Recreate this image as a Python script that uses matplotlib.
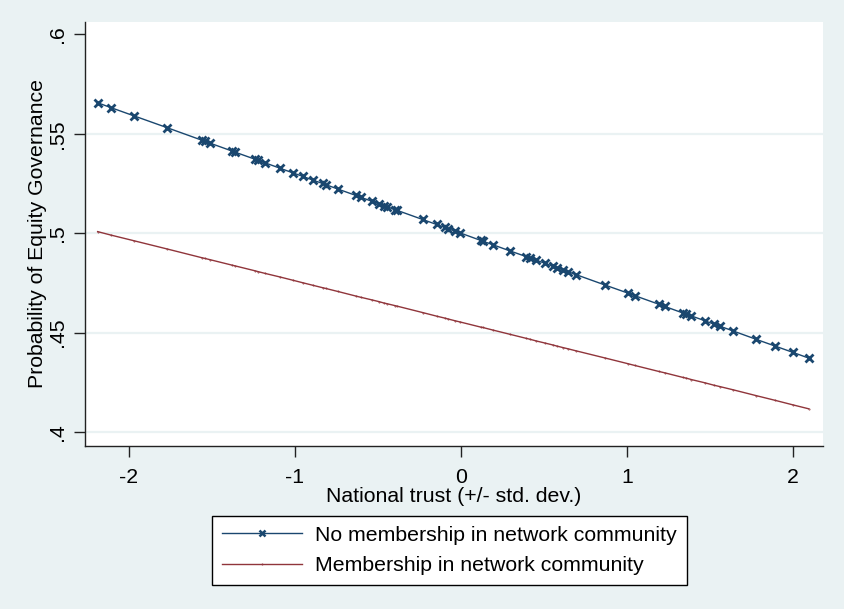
import matplotlib
matplotlib.use("Agg")
import matplotlib.pyplot as plt
from matplotlib.ticker import FixedLocator

plt.rcParams['font.family'] = ['Liberation Sans', 'DejaVu Sans']

# National trust values (standardised) at which predictions are evaluated
trust = [-2.186, -2.108, -1.967, -1.769, -1.560, -1.540, -1.510, -1.380, -1.360,
         -1.239, -1.221, -1.179, -1.089, -1.013, -0.952, -0.890, -0.832, -0.812,
         -0.740, -0.632, -0.603, -0.537, -0.493, -0.463, -0.447, -0.397, -0.387,
         -0.230, -0.146, -0.096, -0.078, -0.036, -0.006, 0.119, 0.132, 0.193,
         0.299, 0.395, 0.415, 0.455, 0.505, 0.554, 0.576, 0.614, 0.644, 0.696,
         0.866, 1.005, 1.047, 1.191, 1.227, 1.336, 1.358, 1.388, 1.468, 1.522,
         1.558, 1.637, 1.779, 1.890, 1.998, 2.094]

# Predicted probability, no membership in network community
prob_no_member = [0.5656, 0.5632, 0.5590, 0.5531, 0.5468, 0.5462, 0.5453, 0.5414,
                  0.5408, 0.5372, 0.5366, 0.5354, 0.5327, 0.5304, 0.5286, 0.5267,
                  0.5250, 0.5244, 0.5222, 0.5190, 0.5181, 0.5161, 0.5148, 0.5139,
                  0.5134, 0.5119, 0.5116, 0.5069, 0.5044, 0.5029, 0.5023, 0.5011,
                  0.5002, 0.4964, 0.4960, 0.4942, 0.4910, 0.4882, 0.4876, 0.4864,
                  0.4849, 0.4834, 0.4827, 0.4816, 0.4807, 0.4791, 0.4740, 0.4699,
                  0.4686, 0.4643, 0.4632, 0.4599, 0.4593, 0.4584, 0.4560, 0.4543,
                  0.4533, 0.4509, 0.4466, 0.4433, 0.4401, 0.4372]

# Predicted probability, membership in network community
prob_member = [0.5008, 0.4991, 0.4962, 0.4921, 0.4877, 0.4873, 0.4867, 0.4840,
               0.4836, 0.4811, 0.4807, 0.4798, 0.4780, 0.4764, 0.4751, 0.4738,
               0.4726, 0.4722, 0.4707, 0.4684, 0.4678, 0.4665, 0.4656, 0.4649,
               0.4646, 0.4636, 0.4634, 0.4601, 0.4583, 0.4573, 0.4569, 0.4560,
               0.4554, 0.4528, 0.4526, 0.4513, 0.4491, 0.4471, 0.4467, 0.4458,
               0.4448, 0.4438, 0.4433, 0.4425, 0.4419, 0.4408, 0.4373, 0.4344,
               0.4335, 0.4305, 0.4298, 0.4275, 0.4271, 0.4264, 0.4248, 0.4236,
               0.4229, 0.4213, 0.4183, 0.4160, 0.4137, 0.4117]

x_ticks = [-2, -1, 0, 1, 2]
x_tick_labels = ['-2', '-1', '0', '1', '2']
y_ticks = [0.4, 0.45, 0.5, 0.55, 0.6]
y_tick_labels = ['.4', '.45', '.5', '.55', '.6']
series_labels = ['No membership in network community', 'Membership in network community']

BG = '#EAF2F3'
NAVY = '#1A476F'
MAROON = '#90353B'
W, H = 845, 609
FS = 15.3

fig = plt.figure(figsize=(W / 100, H / 100), dpi=100, facecolor=BG)
ax = fig.add_axes([85 / W, 1 - 446 / H, (823 - 85) / W, (446 - 22) / H])
ax.set_facecolor('white')

# gridlines at interior y ticks
for yv in y_ticks[:-1]:
    ax.axhline(yv, color=BG, lw=1.6, zorder=0)

l1, = ax.plot(trust, prob_no_member, color=NAVY, lw=1.0, marker='x',
              markersize=5.5, markeredgewidth=2.0, zorder=3)
l2, = ax.plot(trust, prob_member, color=MAROON, lw=1.0, marker='.',
              markersize=0.8, zorder=2)

ax.set_xlim(-2.262, 2.180)
ax.set_ylim(0.3930, 0.6062)

ax.xaxis.set_major_locator(FixedLocator(x_ticks))
ax.set_xticklabels(x_tick_labels)
ax.yaxis.set_major_locator(FixedLocator(y_ticks))
ax.set_yticklabels(y_tick_labels, rotation=90, va='center')

for s in ['top', 'right']:
    ax.spines[s].set_visible(False)
for s in ['left', 'bottom']:
    ax.spines[s].set_color('#222222')
    ax.spines[s].set_linewidth(1.0)

ax.tick_params(axis='both', direction='out', length=8, width=1.0,
               color='#222222', labelsize=FS, labelcolor='black')
ax.tick_params(axis='x', pad=8)
ax.tick_params(axis='y', pad=5)

ax.set_xlabel('National trust (+/- std. dev.)', fontsize=FS, labelpad=0)
ax.set_ylabel('Probability of Equity Governance', fontsize=FS, labelpad=0.5)

leg = fig.legend([l1, l2], series_labels, loc='upper center',
                 bbox_to_anchor=(449.5 / W, 1 - 516 / H),
                 bbox_transform=fig.transFigure, ncol=1,
                 fontsize=FS, frameon=True, fancybox=False, framealpha=1,
                 edgecolor='black', facecolor='white', numpoints=1,
                 handlelength=3.75, handletextpad=0.65, borderpad=0.45,
                 labelspacing=0.55, borderaxespad=0)
leg.get_frame().set_linewidth(1.0)
leg.legend_handles[0].set_markersize(4)
leg.legend_handles[0].set_markeredgewidth(1.8)

fig.savefig('out.png', dpi=100, facecolor=BG)
